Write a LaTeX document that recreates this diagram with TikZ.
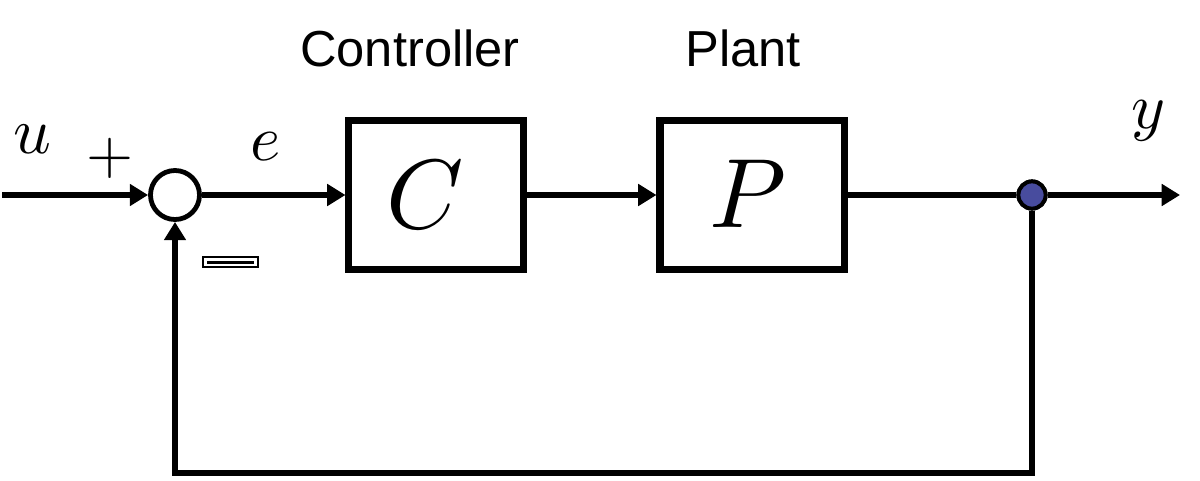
\documentclass[tikz,border=0pt]{standalone}
\usepackage{fontspec}
\setsansfont{Liberation Sans}
\usetikzlibrary{arrows.meta}
\definecolor{dotblue}{RGB}{72,76,158}
\newcommand{\scaledmathlab}[2]{\scalebox{#1}{$#2$}}
\begin{document}
\begin{tikzpicture}[x=0.025cm,y=-0.025cm,
  conn/.style={line width=3.6pt,-{Triangle[length=13pt,width=15pt]}},
  plainline/.style={line width=3.6pt},
  blockbox/.style={draw,line width=5pt,minimum height=3.7cm,inner sep=0pt},
  sumnode/.style={circle,draw,line width=3.4pt,minimum size=1.225cm,inner sep=0pt},
  junction/.style={circle,draw,fill=dotblue,line width=2.8pt,minimum size=0.68cm,inner sep=0pt},
  lab/.style={inner sep=0pt},
  title/.style={inner sep=0pt,font=\sffamily\fontsize{36}{42}\selectfont}]
\useasboundingbox (0,0) rectangle (1200,480);
\node[sumnode] (sum) at (175,195) {};
\node[blockbox,minimum width=4.35cm] (ctrl) at (436,195) {};
\node[blockbox,minimum width=4.6cm] (plant) at (752,195) {};
\node[lab] (clab) at (425,195) {\scaledmathlab{7}{C}};
\node[lab] (plab) at (748,194) {\scaledmathlab{7}{P}};
\coordinate (start) at (2,195);
\coordinate (end) at (1180,195);
\coordinate (fbR) at (1032,473);
\coordinate (fbL) at (175,473);
\node[junction] (dot) at (1032,195) {};
\draw[conn] (start) -- (sum);
\draw[conn] (sum) -- (ctrl);
\draw[conn] (ctrl) -- (plant);
\draw[plainline] (plant) -- (dot);
\draw[conn] (dot) -- (end);
\draw[conn] (dot) -- (fbR) -- (fbL) -- (sum);
\node[junction] at (dot) {};
\node[lab] (ulab) at (32,139) {\scaledmathlab{4.7}{u}};
\node[lab] (elab) at (266,147) {\scaledmathlab{4.6}{e}};
\node[lab] (ylab) at (1148,121) {\scaledmathlab{4.6}{y}};
\node[lab] (plus) at (110,158) {\scalebox{4.3}{$+$}};
\node[title] (ctitle) at (410,48) {Controller};
\node[title] (ptitle) at (743,48) {Plant};
\draw[line width=1pt] (203,257) rectangle (258,267);
\fill (207,260.5) rectangle (254,263.5);
\end{tikzpicture}
\end{document}
